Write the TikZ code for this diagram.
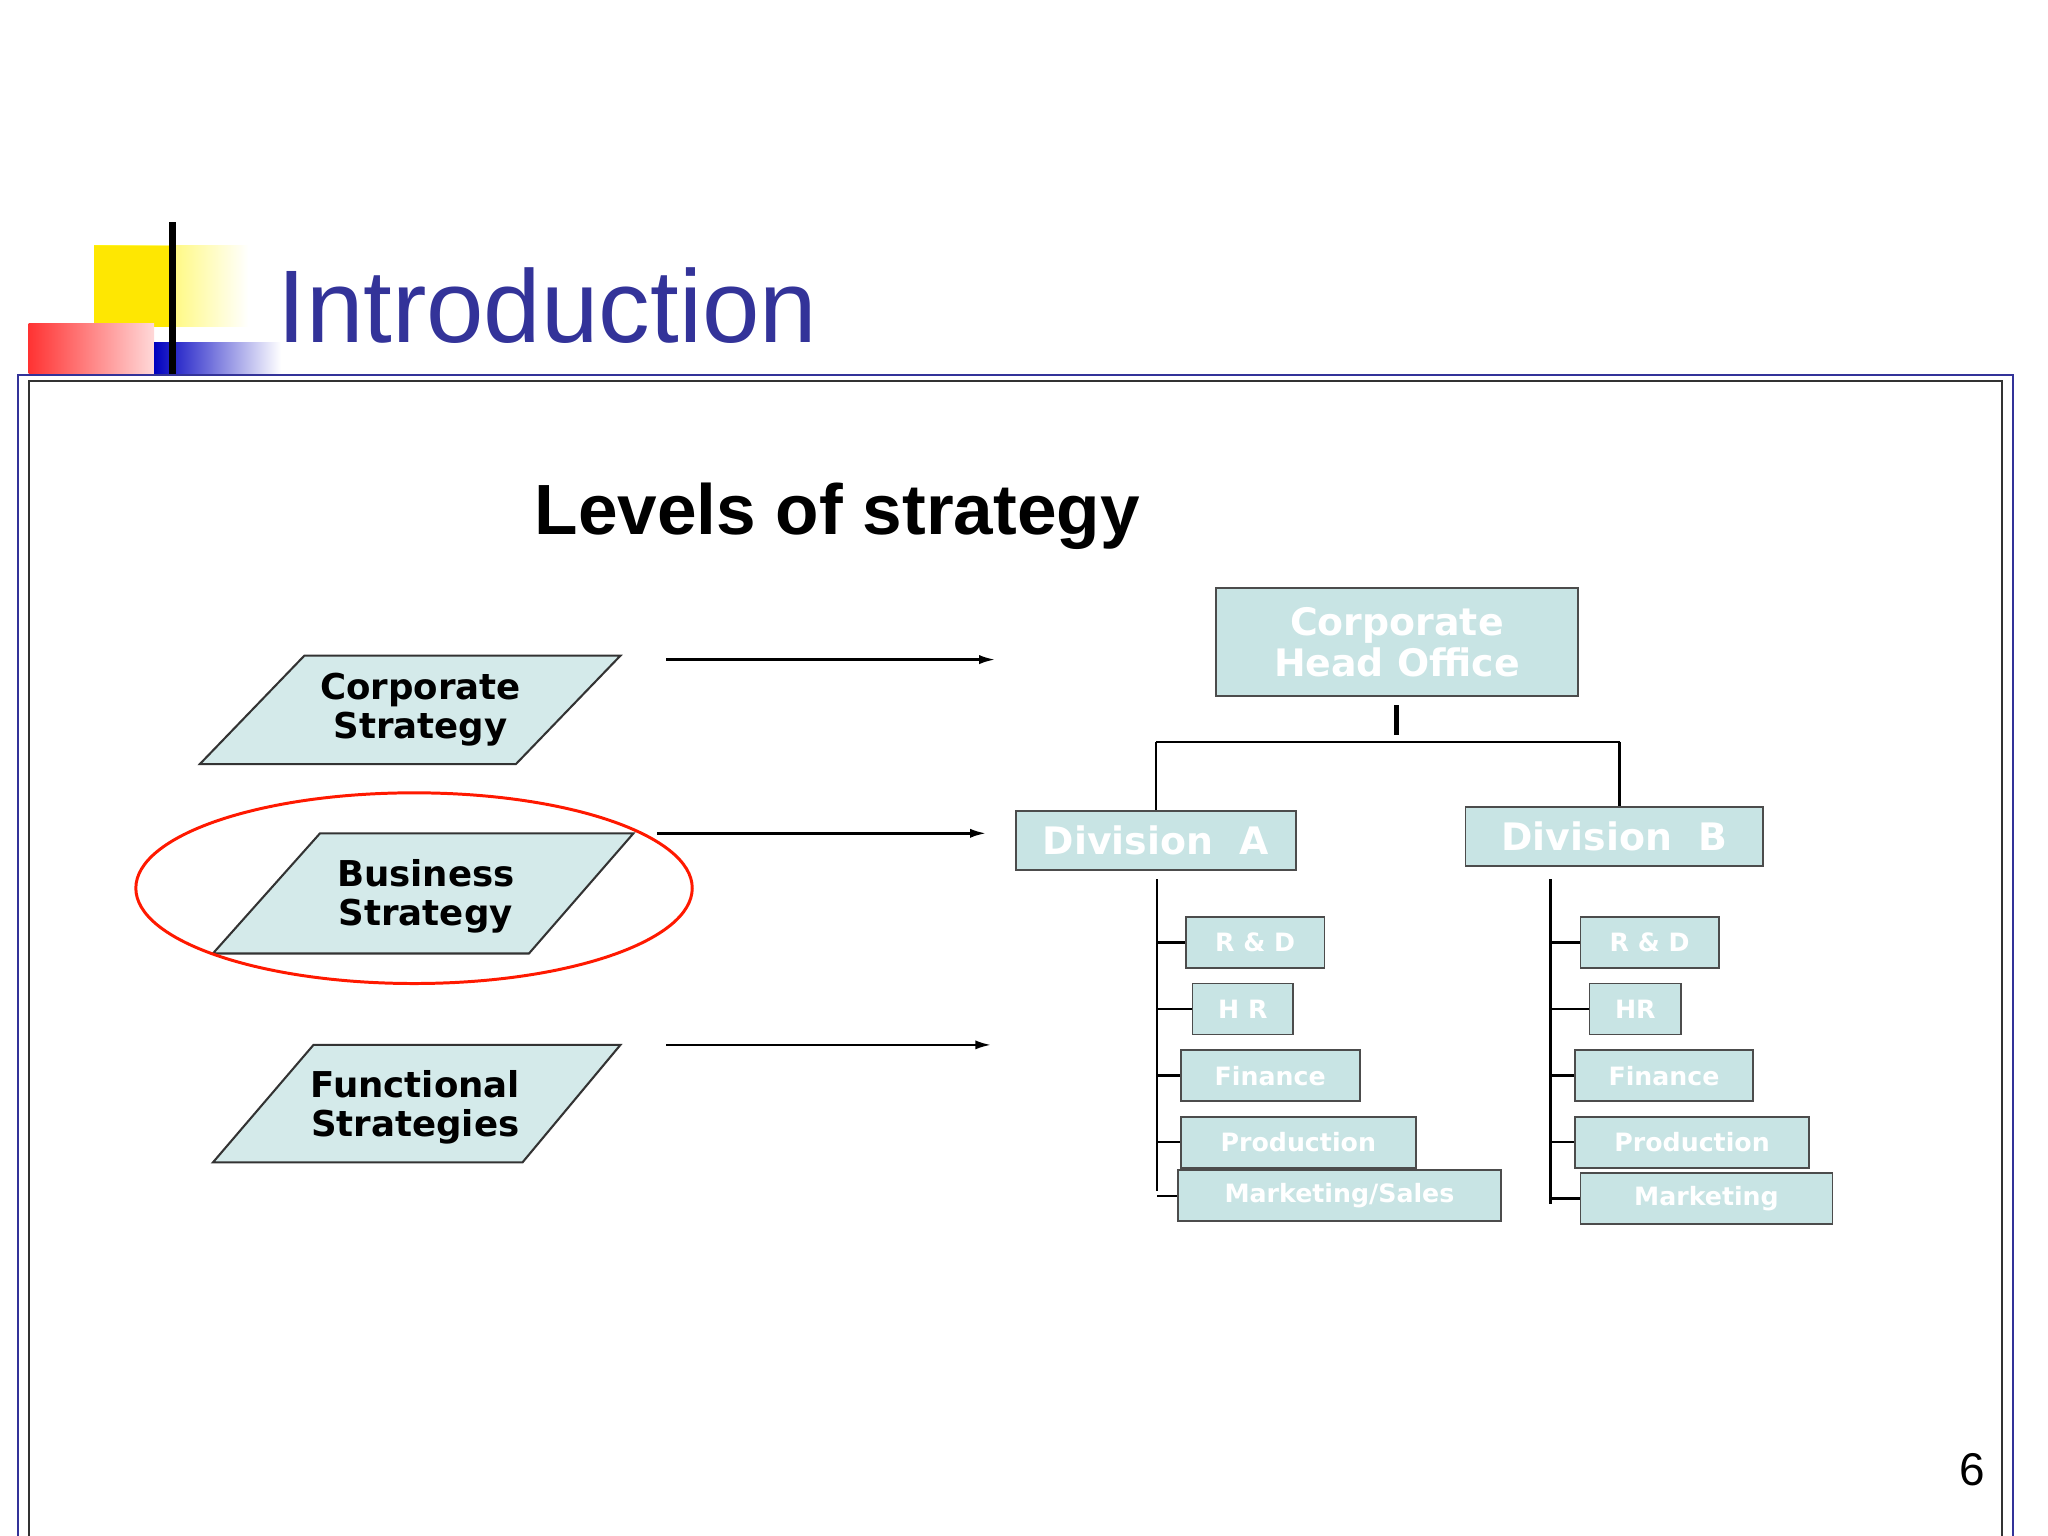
\documentclass[tikz,border=0pt]{standalone}
\usepackage{fontspec}
\setmainfont{Liberation Sans}
\newfontfamily\dvb{DejaVu Sans}
\usetikzlibrary{fit,arrows.meta}
\definecolor{ttl}{RGB}{51,51,153}
\definecolor{cy}{RGB}{212,234,234}
\definecolor{bx}{RGB}{200,228,228}
\begin{document}
\begin{tikzpicture}[x=0.02cm,y=-0.02cm,
  box/.style={draw=black!70,fill=bx,inner sep=0pt,line width=0.8pt},
  bt/.style={text=white,font=\dvb\bfseries\fontsize{16.5}{18}\selectfont,align=center},
  it/.style={text=white,font=\dvb\bfseries\fontsize{11}{12}\selectfont},
  para/.style={draw=black!80,fill=cy,line width=0.9pt},
  pt/.style={font=\dvb\bfseries\fontsize{15.5}{17}\selectfont,align=center},
  arr/.style={line width=1.1pt,-{Latex[length=7pt,width=4pt]}},
  ln/.style={line width=1pt}]
\useasboundingbox (0,0) rectangle (1568,1176);
% decoration
\shade[left color=yellow!90!orange,right color=white] (72,188) rectangle (190,250);
\fill[yellow!90!orange] (72,188) rectangle (132,250);
\shade[left color=red!80,right color=red!15] (22,248) rectangle (118,286);
\shade[left color=blue!75!black,right color=white] (118,262) rectangle (215,286);
\draw[line width=3pt] (132,170) -- (132,286);
\node[anchor=base west,text=ttl,font=\fontsize{45}{50}\selectfont,inner sep=0] (title) at (212,262) {Introduction};
% frame
\draw[ttl,line width=0.8pt] (14,1180) -- (14,287) -- (1541,287) -- (1541,1180);
\draw[black!80,line width=0.8pt] (22,1180) -- (22,292) -- (1533,292) -- (1533,1180);
\node[font=\bfseries\fontsize{31}{36}\selectfont] (lvl) at (641,395) {Levels of strategy};
% parallelograms
\draw[para] (153,585) -- (395,585) -- (475,502) -- (233,502) -- cycle;
\node[pt] (cs) at (322,543) {Corporate\\Strategy};
\draw[para] (163,730) -- (405,730) -- (485,638) -- (245,638) -- cycle;
\node[pt] (bs) at (326,686) {Business\\Strategy};
\draw[para] (163,890) -- (400,890) -- (475,800) -- (240,800) -- cycle;
\node[pt] (fs) at (318,848) {Functional\\Strategies};
\draw[red!80!orange,line width=1.3pt] (317,680) ellipse [x radius=213,y radius=73];
% arrows
\coordinate (a1s) at (510,505); \coordinate (a1e) at (762,505);
\coordinate (a2s) at (503,638); \coordinate (a2e) at (755,638);
\coordinate (a3s) at (510,800); \coordinate (a3e) at (759,800);
\draw[arr] (a1s) -- (a1e); \draw[arr] (a2s) -- (a2e); \draw[arr] (a3s) -- (a3e);
% org chart
\node[box,fit={(931,450)(1208,533)},label={[bt]center:Corporate\\Head Office}] (cho) {};
\node[box,fit={(778,621)(992,666)},label={[bt]center:Division\ \ A}] (da) {};
\node[box,fit={(1122,618)(1350,663)},label={[bt]center:Division\ \ B}] (db) {};
\coordinate (t1) at (1069,540); \coordinate (t2) at (1069,563);
\draw[line width=2pt] (t1) -- (t2);
\coordinate (hl) at (885,568); \coordinate (hr) at (1240,568);
\draw[ln] (hl) -- (hr);
\draw[ln] (hl) -- (hl|-da.north);
\draw[ln] (hr) -- (hr|-db.north);
% items A
\node[box,fit={(908,702)(1014,741)},label={[it]center:R \& D}] (ra) {};
\node[box,fit={(913,753)(990,792)},label={[it]center:H R}] (ha) {};
\node[box,fit={(904,804)(1041,843)},label={[it]center:Finance}] (fa) {};
\node[box,fit={(904,855)(1084,894)},label={[it]center:Production}] (pa) {};
\node[box,fit={(902,896)(1149,935)},label={[it]center:Marketing/Sales}] (ma) {};
\coordinate (va1) at (886,673); \coordinate (va2) at (886,912);
\draw[ln] (va1) -- (va2);
\foreach \n in {ra,ha,fa,pa,ma} \draw[ln] (va1|-\n.west) -- (\n.west);
% items B
\node[box,fit={(1210,702)(1316,741)},label={[it]center:R \& D}] (rb) {};
\node[box,fit={(1217,753)(1287,792)},label={[it]center:HR}] (hb) {};
\node[box,fit={(1206,804)(1342,843)},label={[it]center:Finance}] (fb) {};
\node[box,fit={(1206,855)(1385,894)},label={[it]center:Production}] (pb) {};
\node[box,fit={(1210,898)(1403,937)},label={[it]center:Marketing}] (mb) {};
\coordinate (vb1) at (1187,673); \coordinate (vb2) at (1187,922);
\draw[ln] (vb1) -- (vb2);
\foreach \n in {rb,hb,fb,pb,mb} \draw[ln] (vb1|-\n.west) -- (\n.west);
\node[font=\fontsize{20}{22}\selectfont] (pg) at (1510,1125) {6};
\end{tikzpicture}
\end{document}
